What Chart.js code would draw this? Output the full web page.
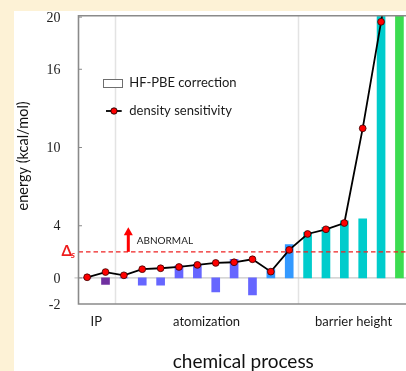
<!DOCTYPE html>
<html>
<head>
<meta charset="utf-8">
<script src="https://cdn.jsdelivr.net/npm/chart.js@4.4.1/dist/chart.umd.min.js"></script>
<style>
  html, body { margin: 0; padding: 0; width: 406px; height: 371px; overflow: hidden; background: #fdf2d6; }
  #wrap { position: absolute; left: 14px; top: 11px; width: 420px; height: 360px; background: #ffffff; }
  canvas { display: block; }
</style>
</head>
<body>
<div id="wrap"><canvas id="c" width="420" height="360"></canvas></div>
<script>
// Reactions, numbered along the horizontal axis
const reactionIndex = [0, 1, 2, 3, 4, 5, 6, 7, 8, 9, 10, 11, 12, 13, 14, 15, 16, 17];

// HF-PBE correction per reaction (kcal/mol)
const hfPbeCorrection = [0, -0.5, 0, -0.56, -0.56, 0.95, 1.05, -1.07, 1.43, -1.3, 0.67, 2.55, 3.5, 3.88, 4.37, 4.54, 24, 26];

// Density sensitivity per reaction (kcal/mol)
const densitySensitivity = [0.05, 0.45, 0.2, 0.67, 0.74, 0.84, 1.0, 1.15, 1.2, 1.43, 0.48, 2.15, 3.37, 3.73, 4.21, 11.47, 19.64, 28];

// Groups of reactions: first and last reaction of each group
const groupNames = ['IP', 'atomization', 'barrier height'];
const groupFirst = [0, 2, 12];
const groupLast = [1, 11, 17];

// Energy axis tick labels and the density-sensitivity threshold
const energyTicks = [-2, 0, 4, 10, 16, 20];
const sensitivityThreshold = 2;

// Bar colours, one per reaction
const barColors = [
  '#7030a0', '#7030a0',
  '#6666ff', '#6666ff', '#6666ff', '#6666ff', '#6666ff', '#6666ff', '#6666ff', '#6666ff',
  '#3399ff', '#3399ff',
  '#00cccc', '#00cccc', '#00cccc', '#00cccc', '#00cccc',
  '#3cdc50'
];

const SANS = 'Lato, "Open Sans", sans-serif';

const decorations = {
  id: 'decorations',
  beforeDatasetsDraw(chart) {
    const { ctx, chartArea: a, scales: { x, y } } = chart;
    ctx.save();
    // group separators
    ctx.strokeStyle = '#e3e3e3';
    ctx.lineWidth = 1.5;
    for (let g = 0; g < groupNames.length - 1; g++) {
      const px = Math.round(x.getPixelForValue((groupLast[g] + groupFirst[g + 1]) / 2)) + 0.5;
      ctx.beginPath();
      ctx.moveTo(px, a.top);
      ctx.lineTo(px, a.bottom);
      ctx.stroke();
    }
    // zero line
    const y0 = y.getPixelForValue(0);
    ctx.strokeStyle = '#c8c8c8';
    ctx.lineWidth = 1.2;
    ctx.beginPath();
    ctx.moveTo(a.left - 4, y0);
    ctx.lineTo(a.right, y0);
    ctx.stroke();
    ctx.restore();
  },
  beforeDatasetDraw(chart, args) {
    if (args.index !== 0) return;
    const { ctx, chartArea: a, scales: { y } } = chart;
    const yt = y.getPixelForValue(sensitivityThreshold);
    ctx.save();
    ctx.strokeStyle = '#ee2222';
    ctx.lineWidth = 1.4;
    ctx.setLineDash([4.5, 3]);
    ctx.beginPath();
    ctx.moveTo(a.left, yt);
    ctx.lineTo(a.right, yt);
    ctx.stroke();
    ctx.restore();
  },
  afterDatasetsDraw(chart) {
    const { ctx, chartArea: a, scales: { x, y } } = chart;
    ctx.save();
    // frame: left axis, top and bottom lines
    ctx.strokeStyle = '#8a8a8a';
    ctx.lineWidth = 1.6;
    ctx.beginPath();
    ctx.moveTo(a.right, a.top);
    ctx.lineTo(a.left, a.top);
    ctx.lineTo(a.left, a.bottom);
    ctx.lineTo(a.right, a.bottom);
    ctx.stroke();

    // inner tick marks and tick labels
    ctx.lineWidth = 1;
    ctx.fillStyle = '#222';
    ctx.font = '14px "Liberation Serif", "DejaVu Serif", serif';
    ctx.textAlign = 'right';
    ctx.textBaseline = 'middle';
    energyTicks.forEach(v => {
      const py = y.getPixelForValue(v);
      if (v !== energyTicks[0]) {
        ctx.beginPath();
        ctx.moveTo(a.left, py);
        ctx.lineTo(a.left + 3.5, py);
        ctx.stroke();
      }
      ctx.fillText(String(v), a.left - 18, py + 1);
    });

    // axis titles
    ctx.fillStyle = '#111';
    ctx.font = '14.5px ' + SANS;
    ctx.textAlign = 'center';
    ctx.save();
    ctx.translate(9, (a.top + a.bottom) / 2 - 4);
    ctx.rotate(-Math.PI / 2);
    ctx.fillText('energy (kcal/mol)', 0, 0);
    ctx.restore();

    ctx.font = '19px ' + SANS;
    const mid = (reactionIndex[0] + reactionIndex[reactionIndex.length - 1]) / 2;
    ctx.fillText('chemical process', x.getPixelForValue(mid), 351);

    // group labels
    ctx.font = '13px ' + SANS;
    ctx.fillStyle = '#1a1a1a';
    groupNames.forEach((name, g) => {
      ctx.fillText(name, x.getPixelForValue((groupFirst[g] + groupLast[g]) / 2), 311);
    });

    // threshold label
    const yt = y.getPixelForValue(sensitivityThreshold);
    ctx.fillStyle = '#ee1c1c';
    ctx.textAlign = 'left';
    ctx.font = 'bold 15px ' + SANS;
    ctx.fillText('\u0394', 47.5, yt - 1);
    ctx.font = 'italic bold 10px ' + SANS;
    ctx.fillText('s', 57, yt + 3);

    // ABNORMAL arrow
    const ax = 114.3;
    const tip = yt - 24.5;
    ctx.fillStyle = '#ff0000';
    ctx.fillRect(ax - 1.5, tip + 7, 3, yt - tip - 7);
    ctx.beginPath();
    ctx.moveTo(ax, tip);
    ctx.lineTo(ax + 4.5, tip + 8);
    ctx.lineTo(ax - 4.5, tip + 8);
    ctx.closePath();
    ctx.fill();
    ctx.fillStyle = '#1a1a1a';
    ctx.font = '10px ' + SANS;
    ctx.fillText('ABNORMAL', 122.7, yt - 11);

    // legend
    ctx.strokeStyle = '#6e6e6e';
    ctx.lineWidth = 1;
    ctx.fillStyle = '#ffffff';
    ctx.fillRect(89.5, 68.5, 19, 8);
    ctx.strokeRect(89.5, 68.5, 19, 8);
    ctx.fillStyle = '#1a1a1a';
    ctx.font = '13px ' + SANS;
    ctx.fillText('HF-PBE correction', 115.3, 72);
    ctx.strokeStyle = '#000';
    ctx.lineWidth = 1.8;
    ctx.beginPath();
    ctx.moveTo(92, 100);
    ctx.lineTo(107.7, 100);
    ctx.stroke();
    ctx.beginPath();
    ctx.arc(100, 100, 3.2, 0, Math.PI * 2);
    ctx.fillStyle = '#ff0000';
    ctx.fill();
    ctx.lineWidth = 0.8;
    ctx.stroke();
    ctx.fillStyle = '#1a1a1a';
    ctx.fillText('density sensitivity', 115.3, 100);
    ctx.restore();
  }
};

new Chart(document.getElementById('c'), {
  data: {
    datasets: [
      {
        type: 'line',
        order: 0,
        data: reactionIndex.map((r, i) => ({ x: r, y: densitySensitivity[i] })),
        borderColor: '#000000',
        borderWidth: 1.8,
        pointRadius: 3.4,
        pointBackgroundColor: '#ff0000',
        pointBorderColor: '#3a0000',
        pointBorderWidth: 0.8,
        tension: 0
      },
      {
        type: 'bar',
        order: 1,
        data: reactionIndex.map((r, i) => ({ x: r, y: hfPbeCorrection[i] })),
        backgroundColor: barColors,
        borderWidth: 0,
        barThickness: 8
      }
    ]
  },
  options: {
    responsive: false,
    animation: false,
    events: [],
    layout: { padding: { left: 64.5, top: 4.5, right: 0, bottom: 67 } },
    plugins: { legend: { display: false }, tooltip: { enabled: false } },
    scales: {
      x: { type: 'linear', display: false, offset: false, bounds: 'data', min: -0.47, max: 18.62 },
      y: { type: 'linear', display: false, min: -2, max: 20.1 }
    }
  },
  plugins: [decorations]
});
</script>
</body>
</html>
